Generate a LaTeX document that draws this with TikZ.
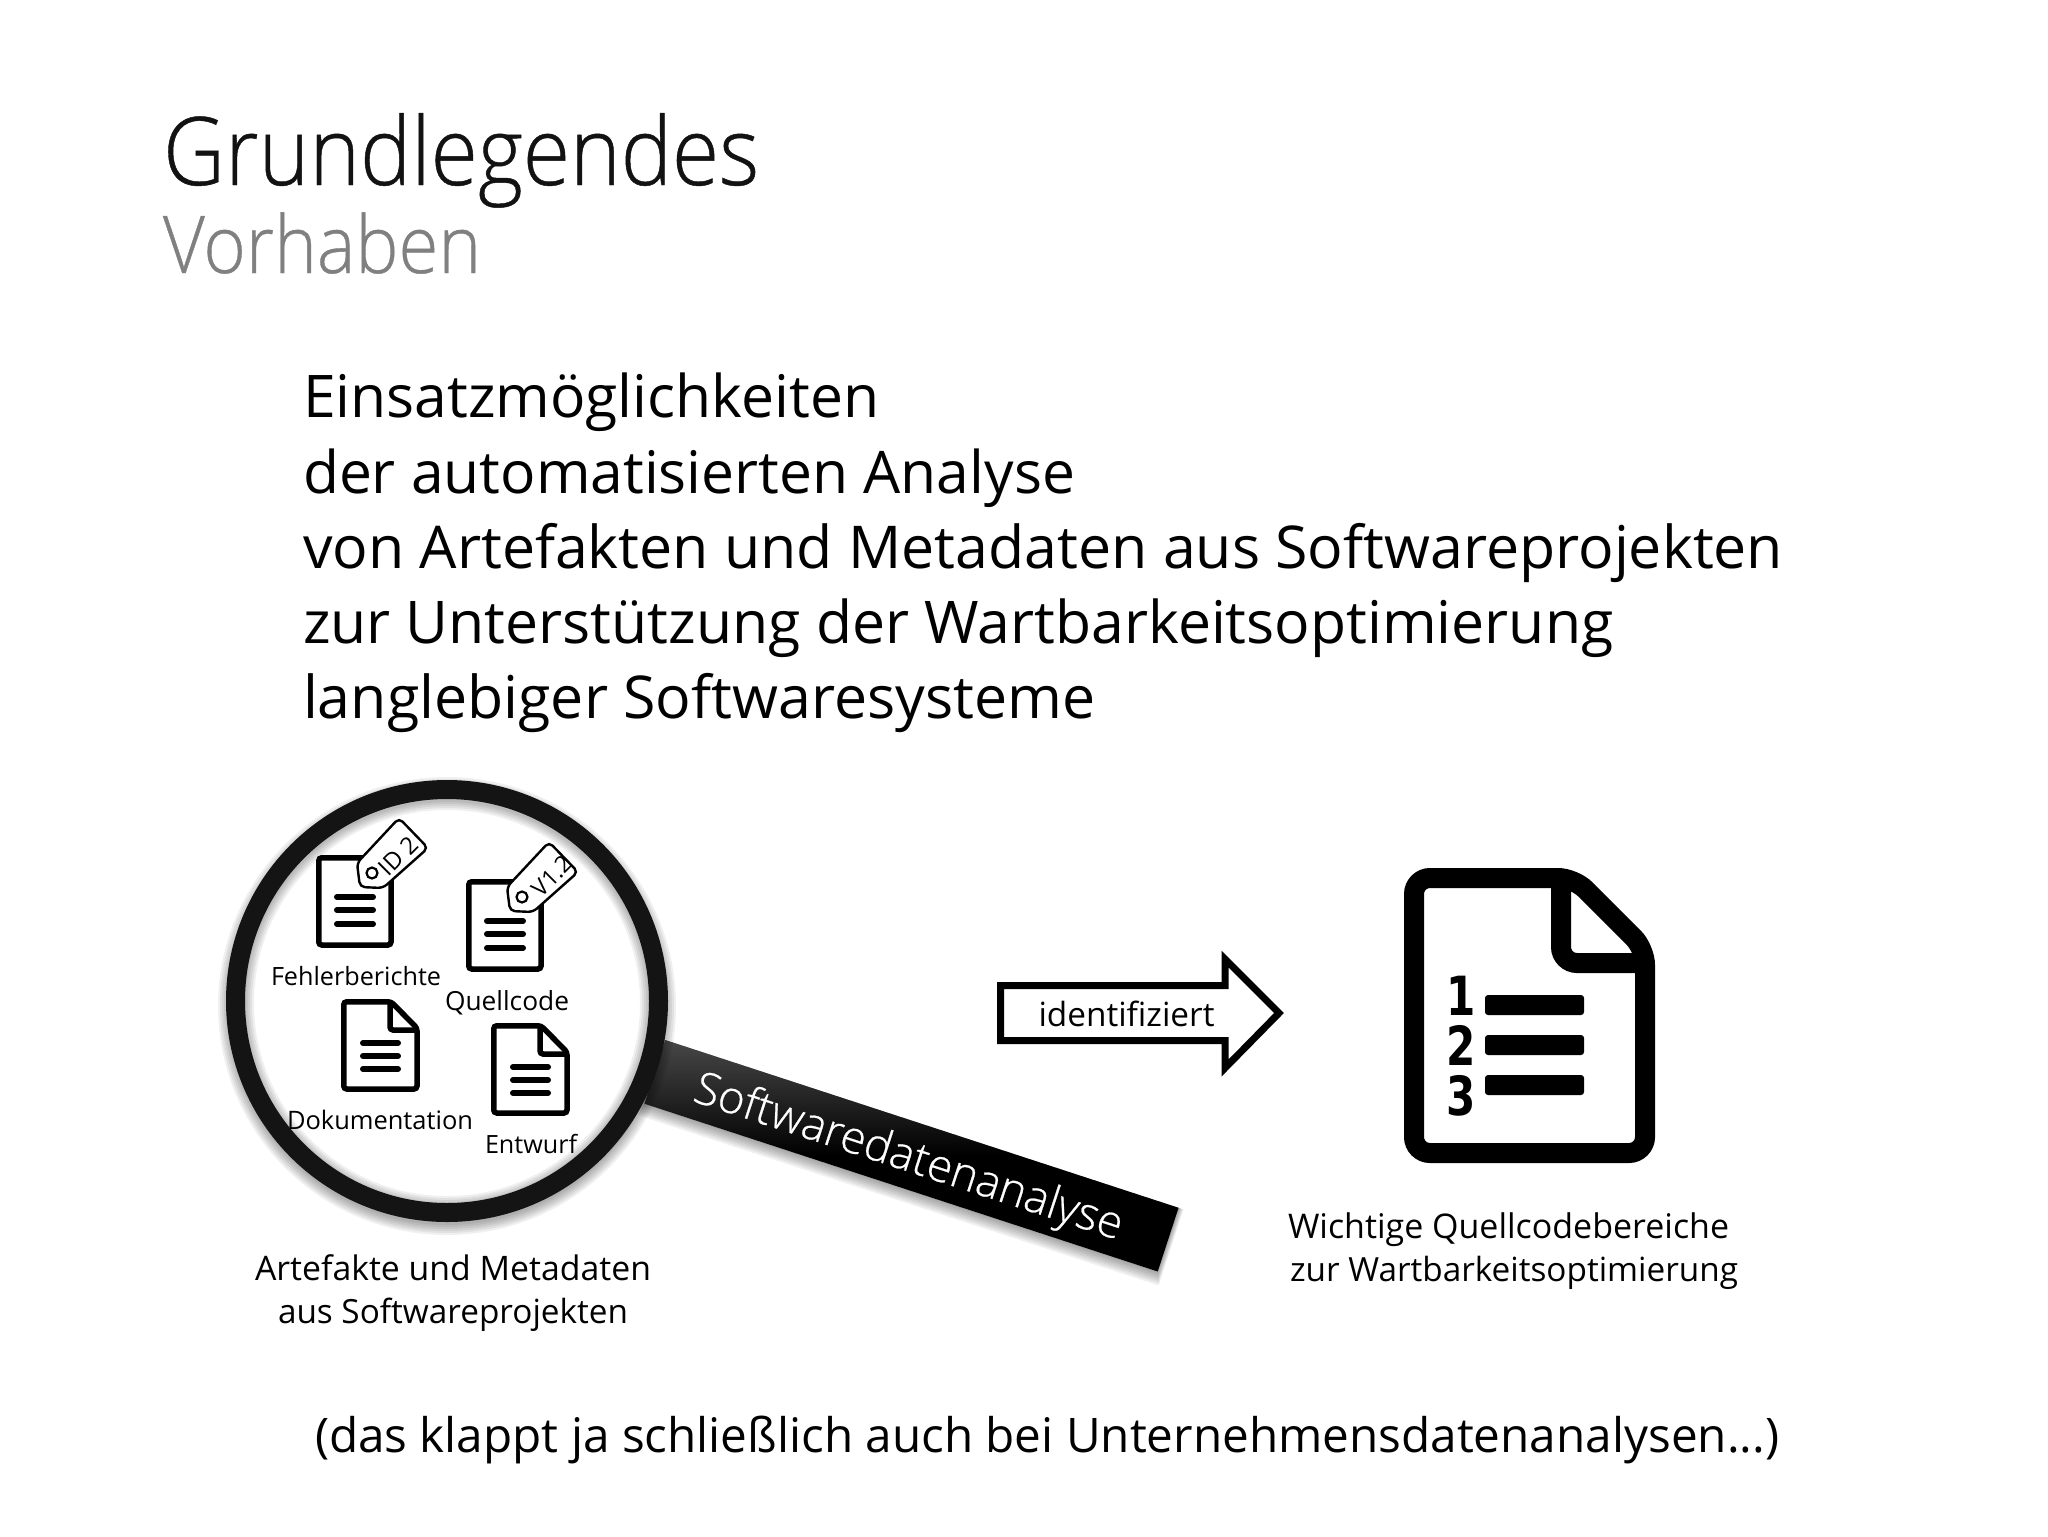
\documentclass[tikz,border=0pt]{standalone}
\usepackage{fontspec}
\usepackage{graphicx}
\setmainfont{Open Sans}
\newfontfamily\lightfont{Open Sans Light}
\newfontfamily\titlefont{Open Sans Light}[FakeBold=0.5]
\newfontfamily\digitfont{DejaVu Sans}[BoldFont={DejaVu Sans Bold}]
\newcommand{\fitw}[2]{\resizebox{#1pt}{!}{#2}}
\newcommand{\fitt}[2]{\scalebox{1}[1.1]{\resizebox{#1pt}{!}{#2}}}
\tikzset{
  txt/.style={inner sep=0pt,outer sep=0pt,anchor=base west,text=black},
  docline/.style={draw=black,line width=2.75pt,rounded corners=1.5pt,fill=white},
  foldline/.style={draw=black,line width=2.75pt,rounded corners=1.5pt},
  textbar/.style={draw=black,line width=3pt,line cap=round},
  tagshape/.style={draw=black,line width=1.2pt,fill=white,rounded corners=2.5pt},
  tagpic/.pic={
    \draw[docline] (2.75,2.75) rectangle (75,90);
    \draw[textbar] (21,42) -- (57,42);
    \draw[textbar] (21,55) -- (57,55);
    \draw[textbar] (21,69) -- (57,69);
    \draw[tagshape] (83,-37) -- (112,-7) -- (67,33) -- (44,32) -- (41,8) -- cycle;
    \draw[line width=1.1pt] (56,18) circle (5.5);
  },
  earpic/.pic={
    \draw[docline] (2.75,2.75) -- (50,2.75) -- (76,29) -- (76,90) -- (2.75,90) -- cycle;
    \draw[foldline] (49,3) -- (49,31) -- (75,31);
    \draw[textbar] (22,44) -- (57,44);
    \draw[textbar] (22,57) -- (57,57);
    \draw[textbar] (22,70) -- (57,70);
  },
  bar/.style={fill=black,rounded corners=1.5pt},
  digit/.style={inner sep=0pt,outer sep=0pt,anchor=base,font=\digitfont\bfseries\fontsize{27}{27}\selectfont},
}
\begin{document}
\begin{tikzpicture}[x=0.5pt,y=-0.5pt]
\useasboundingbox[fill=white] (0,0) rectangle (2048,1536);

% headings
\node[txt,text=black!93] (title) at (163,185) {\fitt{298}{\titlefont Grundlegendes}};
\node[txt,text=black!50] (sub) at (163,273) {\fitt{159}{\titlefont Vorhaben}};

% body
\node[txt] (b1) at (303,417) {\fitw{288}{Einsatzmöglichkeiten}};
\node[txt] (b2) at (303,493) {\fitw{386}{der automatisierten Analyse}};
\node[txt] (b3) at (303,568) {\fitw{740}{von Artefakten und Metadaten aus Softwareprojekten}};
\node[txt] (b4) at (303,643) {\fitw{655}{zur Unterstützung der Wartbarkeitsoptimierung}};
\node[txt] (b5) at (303,718) {\fitw{396}{langlebiger Softwaresysteme}};

% magnifier handle
\foreach \d in {1,3,...,13}{
  \fill[black,opacity=0.06,rotate around={-18.1:(911.5,1155.75)}] (641.5-\d*0.2,1122.25) rectangle (1181.5+\d*0.4,1189.25+\d);
}
\node[rotate=-18.1,minimum width=270pt,minimum height=33.5pt,inner sep=0pt,
  top color=black!72,bottom color=black,middle color=black,text=white] (handle) at (911.5,1155.75) {};
\node[rotate=-18.1,inner sep=0pt,text=white] (handletext) at (908,1159) {\fitw{224}{\titlefont Softwaredatenanalyse}};

% lens
\foreach \d in {1,3,...,11}{
  \fill[black,opacity=0.06] (447,1006) circle (230-\d);
}
\fill[white] (447,1001) circle (212);
\foreach \d in {1,3,...,9}{
  \fill[black,opacity=0.06,even odd rule] (447,1003) circle (212) (447,1003) circle (192+\d);
}
\draw[black!92,line width=9.5pt] (447,1001) circle (211.5);

% icons
\pic at (316,855) {tagpic};
\node[inner sep=0pt,rotate=45] (tag1) at (398,856) {\fitw{22}{ID 2}};
\pic at (466,879) {tagpic};
\node[inner sep=0pt,rotate=45] (tag2) at (552,876) {\fitw{23}{V1.2}};
\pic at (341,999) {earpic};
\pic at (491,1023) {earpic};

\node[txt] (l1) at (271,985) {\fitw{85}{Fehlerberichte}};
\node[txt] (l2) at (445,1010) {\fitw{62}{Quellcode}};
\node[txt] (l3) at (287,1129) {\fitw{93}{Dokumentation}};
\node[txt] (l4) at (485,1153) {\fitw{46}{Entwurf}};

\node[txt] (c1) at (255,1280) {\fitw{198}{Artefakte und Metadaten}};
\node[txt] (c2) at (278,1323) {\fitw{175}{aus Softwareprojekten}};

% arrow
\draw[black,line width=3.5pt,miter limit=10,fill=white]
  (1000.5,985.5) -- (1225,985.5) -- (1225,959) -- (1279,1013) -- (1225,1068) -- (1225,1040.5) -- (1000.5,1040.5) -- cycle;
\node[txt] (arrowlabel) at (1038.5,1026) {\fitw{88}{identifiziert}};

% big document
\draw[black,line width=10pt,rounded corners=8pt,fill=white]
  (1414,878) -- (1574,878) -- (1645,949) -- (1645,1153) -- (1414,1153) -- cycle;
\draw[black,line width=10pt,rounded corners=8pt] (1561,876) -- (1561,963) -- (1647,963);
\fill[bar] (1485,995) rectangle (1584,1015);
\fill[bar] (1485,1035) rectangle (1584,1055);
\fill[bar] (1485,1075) rectangle (1584,1095);
\node[digit] (d1) at (1461,1015) {\scalebox{.78}[1]{1}};
\node[digit] (d2) at (1461,1065) {\scalebox{.78}[1]{2}};
\node[digit] (d3) at (1461,1115) {\scalebox{.78}[1]{3}};

\node[txt] (r1) at (1288,1238) {\fitw{220.5}{Wichtige Quellcodebereiche}};
\node[txt] (r2) at (1290,1281) {\fitw{224}{zur Wartbarkeitsoptimierung}};

\node[txt] (foot) at (315,1452) {\fitw{732}{(das klappt ja schließlich auch bei Unternehmensdatenanalysen...)}};
\end{tikzpicture}
\end{document}
